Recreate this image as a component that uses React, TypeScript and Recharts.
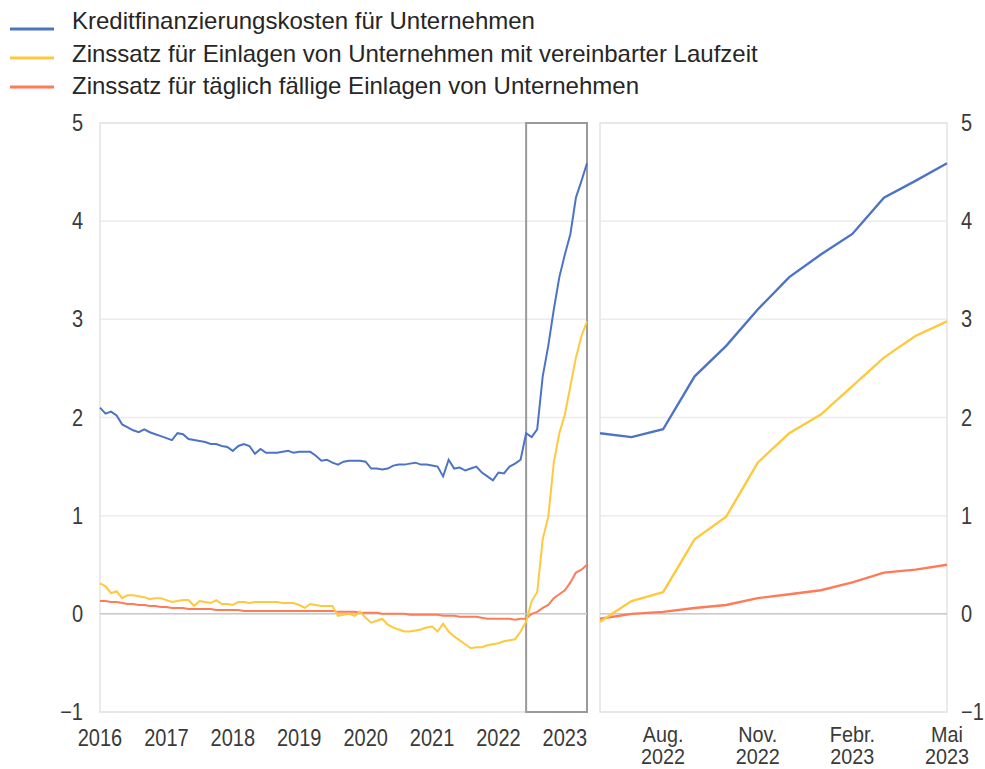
import React from "react";
import {
  LineChart,
  Line,
  XAxis,
  YAxis,
  CartesianGrid,
  ReferenceArea,
  ReferenceLine,
} from "recharts";

// ---- Data (monthly, Jan 2016 – May 2023) ----
const START_YEAR = 2016;

const financingCosts = [
  2.1, 2.04, 2.06, 2.02, 1.93, 1.9, 1.87, 1.85, 1.88, 1.85, 1.83, 1.81,
  1.79, 1.77, 1.84, 1.83, 1.78, 1.77, 1.76, 1.75, 1.73, 1.73, 1.71, 1.7,
  1.66, 1.71, 1.73, 1.71, 1.63, 1.68, 1.64, 1.64, 1.64, 1.65, 1.66, 1.64,
  1.65, 1.65, 1.65, 1.61, 1.56, 1.57, 1.54, 1.52, 1.55, 1.56, 1.56, 1.56,
  1.55, 1.48, 1.48, 1.47, 1.48, 1.51, 1.52, 1.52, 1.53, 1.54, 1.52, 1.52,
  1.51, 1.5, 1.4, 1.57, 1.48, 1.49, 1.46, 1.48, 1.5, 1.44, 1.4, 1.36,
  1.44, 1.43, 1.5, 1.53, 1.57, 1.84, 1.8, 1.88, 2.42, 2.73, 3.1, 3.43,
  3.66, 3.87, 4.24, 4.41, 4.59,
];

const termDepositRate = [
  0.31, 0.28, 0.21, 0.23, 0.16, 0.19, 0.19, 0.18, 0.17, 0.15, 0.16, 0.16,
  0.14, 0.12, 0.13, 0.14, 0.14, 0.08, 0.13, 0.12, 0.11, 0.14, 0.1, 0.1,
  0.09, 0.12, 0.12, 0.11, 0.12, 0.12, 0.12, 0.12, 0.12, 0.11, 0.11, 0.11,
  0.09, 0.06, 0.1, 0.09, 0.08, 0.08, 0.08, -0.02, -0.01, 0.0, -0.02, 0.02,
  -0.04, -0.09, -0.07, -0.05, -0.11, -0.14, -0.16, -0.18, -0.18, -0.17, -0.16, -0.14,
  -0.13, -0.18, -0.1, -0.18, -0.23, -0.27, -0.31, -0.35, -0.34, -0.34, -0.32, -0.31,
  -0.3, -0.28, -0.27, -0.26, -0.18, -0.08, 0.13, 0.22, 0.76, 0.99, 1.54, 1.84,
  2.03, 2.32, 2.61, 2.83, 2.98,
];

const overnightDepositRate = [
  0.13, 0.13, 0.12, 0.12, 0.11, 0.1, 0.1, 0.09, 0.09, 0.08, 0.08, 0.07,
  0.07, 0.06, 0.06, 0.06, 0.05, 0.05, 0.05, 0.05, 0.05, 0.04, 0.04, 0.04,
  0.04, 0.04, 0.03, 0.03, 0.03, 0.03, 0.03, 0.03, 0.03, 0.03, 0.03, 0.03,
  0.03, 0.03, 0.03, 0.03, 0.03, 0.03, 0.03, 0.02, 0.02, 0.02, 0.02, 0.01,
  0.01, 0.01, 0.01, 0.0, 0.0, 0.0, 0.0, 0.0, -0.01, -0.01, -0.01, -0.01,
  -0.01, -0.01, -0.02, -0.02, -0.02, -0.03, -0.03, -0.03, -0.03, -0.04, -0.05, -0.05,
  -0.05, -0.05, -0.05, -0.06, -0.05, -0.05, 0.0, 0.02, 0.06, 0.09, 0.16, 0.2,
  0.24, 0.32, 0.42, 0.45, 0.5,
];

const seriesNames = [
  "Kreditfinanzierungskosten für Unternehmen",
  "Zinssatz für Einlagen von Unternehmen mit vereinbarter Laufzeit",
  "Zinssatz für täglich fällige Einlagen von Unternehmen",
];
const seriesColors = ["#4d74c4", "#ffc93e", "#ff7b56"];

const leftYearTicks = [
  "2016-01", "2017-01", "2018-01", "2019-01",
  "2020-01", "2021-01", "2022-01", "2023-01",
];
const leftYearLabels = ["2016", "2017", "2018", "2019", "2020", "2021", "2022", "2023"];

const zoomStart = "2022-06";
const zoomEnd = "2023-05";

const rightTicks = ["2022-08", "2022-11", "2023-02", "2023-05"];
const rightTickLabels = [
  ["Aug.", "2022"],
  ["Nov.", "2022"],
  ["Febr.", "2023"],
  ["Mai", "2023"],
];

const yTicks = [-1, 0, 1, 2, 3, 4, 5];

// ---- Build tables ----
const months = financingCosts.map(
  (_, i) =>
    `${START_YEAR + Math.floor(i / 12)}-${String((i % 12) + 1).padStart(2, "0")}`
);
const fullData = months.map((m, i) => ({
  month: m,
  a: financingCosts[i],
  b: termDepositRate[i],
  c: overnightDepositRate[i],
}));
const zoomData = fullData.slice(months.indexOf(zoomStart));

// ---- Styling ----
const FONT = "'Liberation Sans', Arial, sans-serif";
const TEXT_COLOR = "#3a3a3a";
const AXIS_SIZE = 23;
const SQUEEZE = 0.87;
const GRID = "#ececec";
const ZERO = "#c9c9c9";
const fmtY = (v: number) => (v < 0 ? `\u2212${Math.abs(v)}` : `${v}`);

const Narrow = ({ x, y, anchor, size = AXIS_SIZE, squeeze = SQUEEZE, children }: any) => (
  <g transform={`translate(${x},${y}) scale(${squeeze},1)`}>
    <text x={0} y={0} textAnchor={anchor} fontFamily={FONT} fontSize={size} fill={TEXT_COLOR}>
      {children}
    </text>
  </g>
);

const LeftTick = (props: any) => {
  const { x, y, payload } = props;
  const idx = leftYearTicks.indexOf(payload.value);
  return (
    <Narrow x={x} y={y + 34} anchor="middle">
      {leftYearLabels[idx]}
    </Narrow>
  );
};

const RightTick = (props: any) => {
  const { x, y, payload } = props;
  const idx = rightTicks.indexOf(payload.value);
  const [l1, l2] = rightTickLabels[idx] || ["", ""];
  return (
    <g>
      <Narrow x={x} y={y + 30} anchor="middle" size={22} squeeze={0.9}>{l1}</Narrow>
      <Narrow x={x} y={y + 52} anchor="middle" size={22} squeeze={0.9}>{l2}</Narrow>
    </g>
  );
};

const YTickLeft = (props: any) => {
  const { x, y, payload } = props;
  return (
    <Narrow x={x} y={y + 8} anchor="end">
      {fmtY(payload.value)}
    </Narrow>
  );
};

const YTickRight = (props: any) => {
  const { x, y, payload } = props;
  return (
    <Narrow x={x} y={y + 8} anchor="start">
      {fmtY(payload.value)}
    </Narrow>
  );
};

const lines = (w: number) =>
  ["a", "b", "c"]
    .map((k, i) => ({ k, i }))
    .reverse()
    .map(({ k, i }) => (
      <Line
        key={k}
        type="linear"
        dataKey={k}
        name={seriesNames[i]}
        stroke={seriesColors[i]}
        strokeWidth={w}
        dot={false}
        activeDot={false}
        isAnimationActive={false}
      />
    ));

const Legend = () => (
  <svg width={985} height={105} style={{ position: "absolute", left: 0, top: 0 }}>
    {seriesNames.map((name, i) => (
      <g key={name}>
        <line x1={10} x2={54} y1={29 + i * 29} y2={29 + i * 29} stroke={seriesColors[i]} strokeWidth={3} />
        <text x={72} y={29 + i * 32.5} fontFamily={FONT} fontSize={24} fill="#262626">
          {name}
        </text>
      </g>
    ))}
  </svg>
);

export default function App() {
  return (
    <div style={{ position: "absolute", left: 0, top: 0, width: 985, height: 769, background: "#fff" }}>
      <Legend />
      <div style={{ position: "absolute", left: 0, top: 0 }}>
        <LineChart width={600} height={769} data={fullData} margin={{ top: 123, right: 13, bottom: 0, left: 0 }}>
          <CartesianGrid horizontal vertical={false} stroke={GRID} strokeWidth={1.5} />
          <XAxis
            dataKey="month"
            ticks={leftYearTicks}
            interval={0}
            tick={<LeftTick />}
            tickLine={false}
            axisLine={false}
            tickSize={0}
            tickMargin={0}
            height={57}
          />
          <YAxis
            domain={[-1, 5]}
            ticks={yTicks}
            interval={0}
            tick={<YTickLeft />}
            tickLine={false}
            axisLine={false}
            tickSize={0}
            tickMargin={17}
            width={100}
          />
          <ReferenceArea x1={months[0]} x2={months[months.length - 1]} y1={-1} y2={5} fill="none" stroke="#e4e4e4" strokeWidth={1.5} />
          <ReferenceLine y={0} stroke={ZERO} strokeWidth={1.5} />
          {lines(2)}
          <ReferenceArea x1={zoomStart} x2={zoomEnd} y1={-1} y2={5} fill="none" stroke="#9a9a9a" strokeWidth={2} ifOverflow="visible" />
        </LineChart>
      </div>
      <div style={{ position: "absolute", left: 560, top: 0 }}>
        <LineChart width={425} height={769} data={zoomData} margin={{ top: 123, right: 0, bottom: 0, left: 40 }}>
          <CartesianGrid horizontal vertical={false} stroke={GRID} strokeWidth={1.5} />
          <XAxis
            dataKey="month"
            ticks={rightTicks}
            interval={0}
            tick={<RightTick />}
            tickLine={false}
            axisLine={false}
            tickSize={0}
            tickMargin={0}
            height={57}
          />
          <YAxis
            orientation="right"
            domain={[-1, 5]}
            ticks={yTicks}
            interval={0}
            tick={<YTickRight />}
            tickLine={false}
            axisLine={false}
            tickSize={0}
            tickMargin={14}
            width={38}
          />
          <ReferenceArea x1={zoomStart} x2={zoomEnd} y1={-1} y2={5} fill="none" stroke="#e4e4e4" strokeWidth={1.5} />
          <ReferenceLine y={0} stroke={ZERO} strokeWidth={1.5} />
          {lines(2.4)}
        </LineChart>
      </div>
    </div>
  );
}
